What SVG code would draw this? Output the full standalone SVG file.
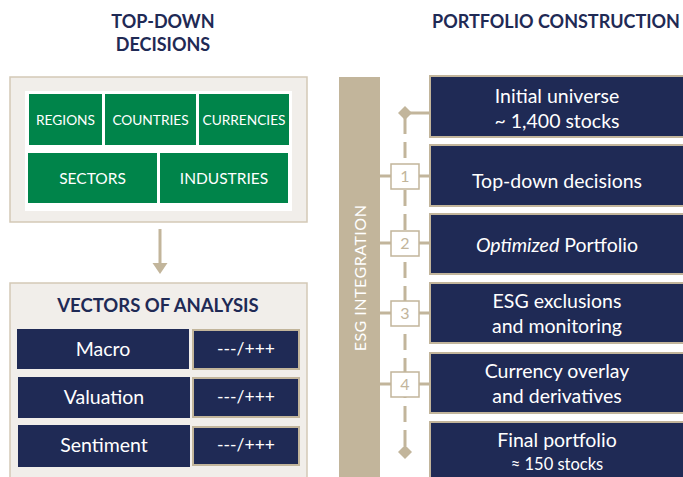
<svg xmlns="http://www.w3.org/2000/svg" width="683" height="477" viewBox="0 0 683 477">
<defs>
<style>
text{font-family:Lato,"Open Sans","Liberation Sans",sans-serif;text-anchor:middle}
.hdr{fill:#1f2a55;font-weight:bold;font-size:18px}
.grn{fill:#00844a}
.gt{fill:#fff;font-size:13.7px}
.gt2{fill:#fff;font-size:15.5px}
.panel{fill:#f1eeea;stroke:#d3c9b6;stroke-width:1.5}
.navy{fill:#1f2a55}
.nbox{fill:#1f2a55;stroke:#c2b59b;stroke-width:2}
.wt{fill:#fff;font-size:19.5px}
.wt2{fill:#fff;font-size:16.5px}
.vt{fill:#fff;font-size:17.5px}
.ln{stroke:#c2b59b;stroke-width:3;fill:none}
.num{fill:#fff;stroke:#c2b59b;stroke-width:1.5}
.nt{fill:#c2b59b;font-size:16px}
</style>
</defs>
<text class="hdr" x="163" y="28">TOP-DOWN</text>
<text class="hdr" x="163" y="51">DECISIONS</text>
<text class="hdr" x="556" y="28">PORTFOLIO CONSTRUCTION</text>

<g id="topdown-panel">
<rect class="panel" x="10" y="77" width="297" height="145"/>
<rect x="25" y="91" width="267" height="120" fill="#fff"/>
</g>
<g id="regions"><rect class="grn" x="29" y="94" width="73" height="51"/><text class="gt" x="65.5" y="125">REGIONS</text></g>
<g id="countries"><rect class="grn" x="105" y="94" width="91" height="51"/><text class="gt" x="150.5" y="125">COUNTRIES</text></g>
<g id="currencies"><rect class="grn" x="199" y="94" width="90" height="51"/><text class="gt" x="244" y="125">CURRENCIES</text></g>
<g id="sectors"><rect class="grn" x="28" y="153" width="129" height="50"/><text class="gt2" x="92.5" y="184">SECTORS</text></g>
<g id="industries"><rect class="grn" x="160" y="153" width="128" height="50"/><text class="gt2" x="224" y="184">INDUSTRIES</text></g>

<g id="vectors-panel">
<rect class="panel" x="10" y="283" width="297" height="196"/>
<text class="hdr" x="158" y="312" style="font-size:18.5px">VECTORS OF ANALYSIS</text>
</g>
<g id="macro"><rect class="navy" x="17" y="329" width="172" height="40"/><text class="wt" x="103" y="356">Macro</text></g>
<g id="macro-val"><rect class="nbox" x="193" y="330" width="106" height="39"/><text class="vt" x="246" y="355">---/+++</text></g>
<g id="valuation"><rect class="navy" x="18" y="377" width="172" height="41"/><text class="wt" x="104" y="404">Valuation</text></g>
<g id="valuation-val"><rect class="nbox" x="193" y="378" width="106" height="39"/><text class="vt" x="246" y="403">---/+++</text></g>
<g id="sentiment"><rect class="navy" x="18" y="425" width="172" height="42"/><text class="wt" x="104" y="452">Sentiment</text></g>
<g id="sentiment-val"><rect class="nbox" x="193" y="427" width="106" height="38"/><text class="vt" x="246" y="451">---/+++</text></g>

<g id="esg-bar">
<rect x="339" y="77" width="41" height="402" fill="#c2b59b"/>
<text transform="translate(366,278) rotate(-90)" fill="#fff" font-size="16" style="letter-spacing:0.5px">ESG INTEGRATION</text>
</g>

<g id="connectors">
<line class="ln" x1="160" y1="229" x2="160" y2="264"/>
<polygon points="152.5,263 167.5,263 160,274" fill="#c2b59b"/>
<line class="ln" x1="405" y1="118" x2="405" y2="448" stroke-dasharray="16 8"/>
<line class="ln" x1="405" y1="113" x2="430" y2="113"/>
<polygon points="405,106 412,113 405,120 398,113" fill="#c2b59b"/>
<polygon points="405,445 412,452 405,459 398,452" fill="#c2b59b"/>
<line class="ln" x1="380" y1="176" x2="430" y2="176" stroke-width="2"/>
<line class="ln" x1="380" y1="243" x2="430" y2="243" stroke-width="2"/>
<line class="ln" x1="380" y1="313" x2="430" y2="313" stroke-width="2"/>
<line class="ln" x1="380" y1="384" x2="430" y2="384" stroke-width="2"/>
</g>

<g id="step1"><rect class="num" x="391" y="164" width="28" height="25"/><text class="nt" x="405" y="182">1</text></g>
<g id="step2"><rect class="num" x="391" y="231" width="28" height="25"/><text class="nt" x="405" y="249">2</text></g>
<g id="step3"><rect class="num" x="391" y="301" width="28" height="25"/><text class="nt" x="405" y="319">3</text></g>
<g id="step4"><rect class="num" x="391" y="372" width="28" height="25"/><text class="nt" x="405" y="390">4</text></g>

<g id="initial-universe"><rect class="nbox" x="430" y="76" width="262" height="61"/><text class="wt" x="557" y="103">Initial universe</text><text class="wt" x="557" y="128">~ 1,400 stocks</text></g>
<g id="top-down-decisions"><rect class="nbox" x="430" y="145" width="262" height="61"/><text class="wt" x="557" y="188">Top-down decisions</text></g>
<g id="optimized-portfolio"><rect class="nbox" x="430" y="214" width="262" height="60"/><text class="wt" x="557" y="252"><tspan font-style="italic">Optimized</tspan> Portfolio</text></g>
<g id="esg-exclusions"><rect class="nbox" x="430" y="283" width="262" height="60"/><text class="wt" x="557" y="308">ESG exclusions</text><text class="wt" x="557" y="333">and monitoring</text></g>
<g id="currency-overlay"><rect class="nbox" x="430" y="353" width="262" height="60"/><text class="wt" x="557" y="378">Currency overlay</text><text class="wt" x="557" y="403">and derivatives</text></g>
<g id="final-portfolio"><rect class="nbox" x="430" y="422" width="262" height="60"/><text class="wt" x="557" y="447">Final portfolio</text><text class="wt2" x="557" y="470">≈ 150 stocks</text></g>
</svg>
